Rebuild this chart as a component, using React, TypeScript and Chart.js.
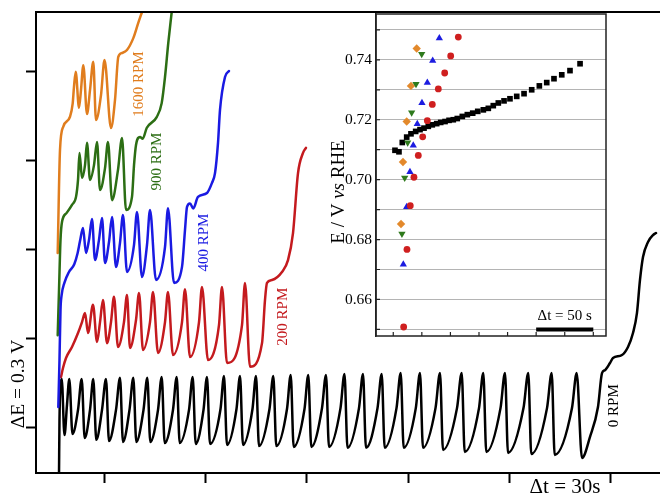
import React, { useEffect, useRef } from 'react';
import { Chart, registerables } from 'chart.js';

Chart.register(...registerables);

const SERIF = "'Liberation Serif', 'Times New Roman', Times, serif";

// ---------- main chart: potential transients (t in s, E in V, traces offset) ----------
const mainXTicks = [30, 60, 90, 120, 150, 180];
const mainYTicks = [0, 0.3, 0.6, 0.9, 1.2];

const rpm0Time = [
  16.69, 16.83, 17.13, 17.49, 18.31, 19.05, 19.73, 20.68, 22.31, 23.40,
  24.29, 25.86, 26.83, 27.72, 29.41, 30.59, 31.48, 33.55, 34.73, 35.62,
  37.54, 38.67, 39.56, 41.69, 42.81, 43.70, 45.98, 47.07, 47.96, 50.41,
  51.51, 52.40, 55.15, 56.24, 57.13, 59.44, 60.47, 61.36, 64.47, 65.50,
  66.39, 69.20, 70.24, 71.12, 73.93, 74.97, 75.86, 78.96, 80.09, 80.98,
  84.14, 85.24, 86.12, 89.32, 90.44, 91.33, 94.50, 95.68, 96.57, 99.97,
  101.15, 102.04, 105.44, 106.63, 107.51, 110.92, 112.16, 113.05, 116.54, 117.78,
  118.67, 122.25, 123.49, 124.38, 128.08, 129.41, 130.30, 134.44, 135.83, 136.72,
  140.95, 142.22, 143.11, 147.31, 148.64, 149.53, 154.11, 155.53, 156.42, 161.07,
  162.46, 163.34, 168.46, 169.85, 171.42, 173.79, 176.15, 177.34, 178.22, 179.70,
  180.59, 183.25, 185.03, 186.51, 187.69, 188.58, 189.47, 190.95, 192.43, 193.31,
];
const rpm0Volt = [
  -0.15, 0.027, 0.145, 0.165, -0.024, 0.078, 0.165, -0.020, 0.061, 0.165,
  -0.034, 0.061, 0.165, -0.040, 0.061, 0.165, -0.044, 0.061, 0.169, -0.047,
  0.061, 0.169, -0.047, 0.061, 0.169, -0.047, 0.061, 0.172, -0.051, 0.061,
  0.172, -0.051, 0.061, 0.172, -0.054, 0.061, 0.172, -0.054, 0.064, 0.175,
  -0.057, 0.064, 0.175, -0.057, 0.064, 0.175, -0.061, 0.064, 0.175, -0.061,
  0.064, 0.179, -0.064, 0.064, 0.179, -0.064, 0.067, 0.179, -0.064, 0.067,
  0.182, -0.067, 0.067, 0.182, -0.067, 0.067, 0.182, -0.067, 0.067, 0.185,
  -0.067, 0.067, 0.185, -0.067, 0.067, 0.185, -0.074, 0.067, 0.185, -0.081,
  0.067, 0.185, -0.081, 0.067, 0.185, -0.084, 0.067, 0.185, -0.088, 0.067,
  0.185, -0.091, 0.067, 0.185, -0.101, -0.030, 0.071, 0.185, 0.195, 0.219,
  0.236, 0.246, 0.273, 0.320, 0.388, 0.499, 0.576, 0.627, 0.650, 0.657,
];

const rpm200Time = [
  17.28, 17.87, 18.76, 20.53, 22.31, 23.49, 24.38, 25.27, 26.75, 27.93,
  28.82, 29.70, 30.89, 32.07, 32.96, 34.14, 35.91, 36.80, 37.69, 39.47,
  40.36, 41.54, 43.61, 44.50, 45.98, 48.05, 48.93, 50.41, 53.08, 53.96,
  55.44, 58.11, 58.99, 60.77, 64.02, 64.91, 66.39, 70.83, 71.72, 73.19,
  76.75, 77.63, 78.22, 79.70, 82.66, 84.44, 85.92, 87.40, 88.88, 89.76,
];
const rpm200Volt = [
  0.172, 0.202, 0.236, 0.273, 0.320, 0.357, 0.388, 0.320, 0.415, 0.290,
  0.357, 0.431, 0.286, 0.357, 0.442, 0.273, 0.357, 0.448, 0.270, 0.364,
  0.455, 0.263, 0.357, 0.458, 0.253, 0.357, 0.458, 0.246, 0.357, 0.468,
  0.239, 0.357, 0.475, 0.229, 0.347, 0.475, 0.219, 0.347, 0.489, 0.206,
  0.286, 0.431, 0.489, 0.499, 0.526, 0.566, 0.657, 0.859, 0.927, 0.944,
];

const rpm400Time = [
  16.48, 16.83, 17.13, 17.43, 18.30, 19.60, 21.20, 22.20, 22.90, 23.79,
  24.67, 25.56, 26.45, 27.34, 28.52, 29.41, 30.30, 31.48, 32.37, 33.55,
  34.73, 35.62, 36.80, 38.88, 39.76, 41.24, 42.72, 43.61, 45.38, 48.05,
  48.93, 50.71, 53.08, 53.96, 54.56, 55.44, 56.42, 57.80, 60.47, 61.95,
  62.84, 63.73, 64.32, 65.80, 66.98,
];
const rpm400Volt = [
  0.071, 0.229, 0.398, 0.445, 0.490, 0.525, 0.552, 0.590, 0.630, 0.674,
  0.590, 0.634, 0.704, 0.566, 0.634, 0.708, 0.556, 0.627, 0.711, 0.543,
  0.624, 0.718, 0.526, 0.617, 0.728, 0.509, 0.617, 0.735, 0.499, 0.610,
  0.741, 0.489, 0.543, 0.667, 0.745, 0.757, 0.740, 0.779, 0.792, 0.826,
  0.859, 0.961, 1.072, 1.183, 1.203,
];

const rpm900Time = [
  16.30, 16.69, 17.13, 17.57, 18.96, 20.53, 21.72, 22.31, 22.75, 23.49,
  24.38, 24.97, 25.86, 27.04, 27.93, 28.82, 30.30, 31.18, 32.37, 34.14,
  35.33, 36.51, 38.28, 38.88, 39.47, 40.65, 41.45, 42.63, 45.59, 47.07,
  48.05, 49.02, 50.03,
];
const rpm900Volt = [
  0.313, 0.465, 0.634, 0.694, 0.725, 0.752, 0.779, 0.836, 0.927, 0.843,
  0.886, 0.961, 0.836, 0.886, 0.964, 0.802, 0.876, 0.964, 0.768, 0.870,
  0.977, 0.735, 0.779, 0.886, 0.954, 0.981, 0.975, 1.011, 1.048, 1.095,
  1.183, 1.298, 1.402,
];

const rpm1600Time = [
  16.30, 16.98, 17.96, 19.94, 20.74, 21.12, 21.63, 22.60, 23.19, 23.88,
  24.97, 25.86, 26.83, 27.63, 29.11, 30.15, 32.07, 33.25, 34.23, 35.33,
  36.80, 38.67, 40.21, 41.24,
];
const rpm1600Volt = [
  0.590, 0.937, 1.016, 1.049, 1.094, 1.150, 1.201, 1.079, 1.139, 1.223,
  1.058, 1.139, 1.234, 1.038, 1.122, 1.240, 1.011, 1.105, 1.251, 1.264,
  1.274, 1.314, 1.368, 1.402,
];

const rpmLabels = ['0 RPM', '200 RPM', '400 RPM', '900 RPM', '1600 RPM'];
const rpmColors = ['#000000', '#c41a1e', '#1a1ae2', '#2c6e14', '#e07d1e'];
const rpmLabelTime = [180.89, 82.96, 59.5, 45.68, 40.36];
const rpmLabelVolt = [0.075, 0.375, 0.625, 0.898, 1.159];

// ---------- inset: E vs RHE against time ----------
const insetGridValues = [0.65, 0.66, 0.67, 0.68, 0.69, 0.7, 0.71, 0.72, 0.73, 0.74, 0.75];
const insetTickLabels = ['', '0.66', '', '0.68', '', '0.70', '', '0.72', '', '0.74', ''];
const insetXTicks = [25, 50, 75, 100, 125, 150, 175, 200];

const inset0Time = [
  26.5, 30.0, 32.9, 36.75, 40.5, 44.6, 48.4, 51.9, 55.65, 59.15, 63.0, 66.5,
  70.3, 73.8, 77.5, 81.0, 85.4, 89.8, 94.5, 98.9, 103.8, 108.15, 112.5, 116.9,
  121.9, 127.1, 133.0, 139.4, 146.1, 152.8, 159.25, 165.6, 172.4, 179.6, 188.4,
];
const inset0Volt = [
  0.7098, 0.7093, 0.7124, 0.7142, 0.7153, 0.7161, 0.7167, 0.7172, 0.7178, 0.7183, 0.7187, 0.7191,
  0.7194, 0.7198, 0.72, 0.7204, 0.7211, 0.7217, 0.7222, 0.7228, 0.7233, 0.7238, 0.7247, 0.7256,
  0.7263, 0.727, 0.7278, 0.7287, 0.73, 0.7313, 0.7324, 0.7337, 0.735, 0.7364, 0.7387,
];
const inset200Time = [34.1, 37.0, 39.9, 43.1, 46.9, 50.75, 54.8, 59.15, 64.4, 70.0, 75.25, 81.9];
const inset200Volt = [0.6508, 0.6767, 0.6913, 0.7008, 0.7081, 0.7143, 0.7197, 0.7251, 0.7303, 0.7356, 0.7413, 0.7476];
const inset400Time = [33.8, 36.75, 39.6, 42.5, 46.0, 50.1, 54.8, 59.5, 65.3];
const inset400Volt = [0.6717, 0.6909, 0.7026, 0.7114, 0.7186, 0.7256, 0.7324, 0.7397, 0.7472];
const inset900Time = [32.6, 35.0, 37.6, 41.1, 44.9, 49.9];
const inset900Volt = [0.6819, 0.7006, 0.7124, 0.7224, 0.7319, 0.7419];
const inset1600Time = [31.8, 33.5, 36.75, 40.5, 45.5];
const inset1600Volt = [0.6852, 0.7059, 0.7194, 0.7313, 0.7438];
const scaleBarTime = [150, 200];
const scaleBarVolt = [0.65, 0.65];

const toPoints = (xs: number[], ys: number[]) => xs.map((x, i) => ({ x, y: ys[i] }));

function rotatedText(ctx: CanvasRenderingContext2D, text: string, x: number, y: number, font: string, color: string) {
  ctx.save();
  ctx.translate(x, y);
  ctx.rotate(-Math.PI / 2);
  ctx.font = font;
  ctx.fillStyle = color;
  ctx.textAlign = 'center';
  ctx.textBaseline = 'middle';
  ctx.fillText(text, 0, 0);
  ctx.restore();
}

const mainDecor = {
  id: 'mainDecor',
  afterDraw(chart: any) {
    const { ctx, chartArea, scales } = chart;
    ctx.save();
    ctx.strokeStyle = '#000';
    ctx.lineWidth = 2;
    ctx.beginPath();
    ctx.moveTo(chartArea.left - 1, chartArea.top);
    ctx.lineTo(chartArea.right, chartArea.top);
    ctx.stroke();
    ctx.restore();
    rpmLabels.forEach((txt, i) =>
      rotatedText(ctx, txt, scales.x.getPixelForValue(rpmLabelTime[i]), scales.y.getPixelForValue(rpmLabelVolt[i]), `15px ${SERIF}`, rpmColors[i])
    );
    rotatedText(ctx, 'ΔE = 0.3 V', 18.5, 384, `19.5px ${SERIF}`, '#000');
    ctx.save();
    ctx.font = `21px ${SERIF}`;
    ctx.fillStyle = '#000';
    ctx.textAlign = 'center';
    ctx.textBaseline = 'middle';
    ctx.fillText('Δt = 30s', 565, 487);
    ctx.restore();
  },
};

const insetDecor = {
  id: 'insetDecor',
  afterDraw(chart: any) {
    const { ctx, chartArea, scales } = chart;
    const { left, right, top, bottom } = chartArea;
    ctx.save();
    ctx.strokeStyle = '#222';
    ctx.lineWidth = 1.5;
    ctx.strokeRect(left, top, right - left, bottom - top);
    ctx.lineWidth = 1.2;
    ctx.beginPath();
    insetXTicks.forEach((t) => {
      const x = scales.x.getPixelForValue(t);
      ctx.moveTo(x, bottom);
      ctx.lineTo(x, bottom - 4);
    });
    insetGridValues.forEach((v) => {
      const y = scales.y.getPixelForValue(v);
      ctx.moveTo(left, y);
      ctx.lineTo(left + 4, y);
    });
    ctx.stroke();
    ctx.font = `15px ${SERIF}`;
    ctx.fillStyle = '#000';
    ctx.textAlign = 'center';
    ctx.textBaseline = 'middle';
    ctx.fillText('Δt = 50 s', scales.x.getPixelForValue(175), scales.y.getPixelForValue(0.65) - 13);
    // y title with italic "vs"
    const parts: [string, string][] = [
      ['E / V ', `19px ${SERIF}`],
      ['vs', `italic 19px ${SERIF}`],
      [' RHE', `19px ${SERIF}`],
    ];
    let total = 0;
    const widths = parts.map(([txt, f]) => {
      ctx.font = f;
      const w = ctx.measureText(txt).width;
      total += w;
      return w;
    });
    ctx.translate(29, 192);
    ctx.rotate(-Math.PI / 2);
    ctx.textAlign = 'left';
    let cx = -total / 2;
    parts.forEach(([txt, f], i) => {
      ctx.font = f;
      ctx.fillText(txt, cx, 0);
      cx += widths[i];
    });
    ctx.restore();
  },
};

export default function App() {
  const mainRef = useRef<HTMLCanvasElement>(null);
  const insetRef = useRef<HTMLCanvasElement>(null);

  useEffect(() => {
    if (!mainRef.current || !insetRef.current) return;
    const line = (xs: number[], ys: number[], color: string, label: string) => ({
      label,
      data: toPoints(xs, ys),
      borderColor: color,
      borderWidth: 2.5,
      pointRadius: 0,
      fill: false,
      cubicInterpolationMode: 'monotone' as const,
      borderJoinStyle: 'round' as const,
      borderCapStyle: 'round' as const,
    });
    const axisCommon = {
      type: 'linear' as const,
      ticks: { display: false },
      grid: { drawOnChartArea: false, drawTicks: true, tickLength: 10, tickWidth: 2, tickColor: '#000', color: '#000' },
      border: { display: true, color: '#000', width: 2 },
    };
    const main = new Chart(mainRef.current, {
      type: 'line',
      data: {
        datasets: [
          line(rpm400Time, rpm400Volt, rpmColors[2], rpmLabels[2]),
          line(rpm900Time, rpm900Volt, rpmColors[3], rpmLabels[3]),
          line(rpm1600Time, rpm1600Volt, rpmColors[4], rpmLabels[4]),
          line(rpm200Time, rpm200Volt, rpmColors[1], rpmLabels[1]),
          line(rpm0Time, rpm0Volt, rpmColors[0], rpmLabels[0]),
        ],
      },
      options: {
        animation: false,
        responsive: false,
        layout: { padding: { left: 26, top: 12, right: 0, bottom: 13 } },
        plugins: { legend: { display: false }, tooltip: { enabled: false } },
        scales: {
          x: {
            ...axisCommon,
            min: 9.88,
            max: 194.5,
            afterBuildTicks: (axis: any) => {
              axis.ticks = mainXTicks.map((v) => ({ value: v }));
            },
          },
          y: {
            ...axisCommon,
            min: -0.1517,
            max: 1.4021,
            afterBuildTicks: (axis: any) => {
              axis.ticks = mainYTicks.map((v) => ({ value: v }));
            },
          },
        },
      },
      plugins: [mainDecor],
    } as any);

    const pts = (xs: number[], ys: number[], color: string, style: string, r: number, rot = 0) => ({
      data: toPoints(xs, ys),
      pointStyle: style,
      pointRadius: r,
      pointRotation: rot,
      backgroundColor: color,
      borderColor: color,
      borderWidth: 0,
      showLine: false,
    });
    const inset = new Chart(insetRef.current, {
      type: 'scatter',
      data: {
        datasets: [
          {
            data: toPoints(scaleBarTime, scaleBarVolt),
            showLine: true,
            borderColor: '#000',
            borderWidth: 4,
            pointRadius: 0,
          },
          pts(inset200Time, inset200Volt, '#cf1f1f', 'circle', 3.4),
          pts(inset400Time, inset400Volt, '#1c1ce0', 'triangle', 4.2),
          pts(inset900Time, inset900Volt, '#2e7a1c', 'triangle', 4.2, 180),
          pts(inset1600Time, inset1600Volt, '#e3892b', 'rectRot', 4.2),
          pts(inset0Time, inset0Volt, '#000000', 'rect', 4),
        ],
      },
      options: {
        animation: false,
        responsive: false,
        layout: { padding: { left: 26, top: 14, right: 14, bottom: 14 } },
        plugins: { legend: { display: false }, tooltip: { enabled: false } },
        scales: {
          x: { type: 'linear', display: false, min: 9.9, max: 211.1 },
          y: {
            type: 'linear',
            min: 0.6478,
            max: 0.7553,
            afterBuildTicks: (axis: any) => {
              axis.ticks = insetGridValues.map((v) => ({ value: v }));
            },
            afterFit: (axis: any) => {
              axis.width = 40;
            },
            grid: { color: '#b4b4b4', lineWidth: 1, drawTicks: false },
            border: { display: true, color: '#222', width: 1.5 },
            ticks: {
              autoSkip: false,
              padding: 4,
              color: '#000',
              font: { family: SERIF, size: 15.5 },
              callback: (_v: any, i: number) => insetTickLabels[i],
            },
          },
        },
      },
      plugins: [insetDecor],
    } as any);

    return () => {
      main.destroy();
      inset.destroy();
    };
  }, []);

  return (
    <div style={{ position: 'absolute', left: 0, top: 0, width: 660, height: 496, background: '#fff', overflow: 'hidden' }}>
      <canvas ref={mainRef} width={660} height={496} style={{ position: 'absolute', left: 0, top: 0 }} />
      <canvas ref={insetRef} width={310} height={350} style={{ position: 'absolute', left: 310, top: 0 }} />
    </div>
  );
}
